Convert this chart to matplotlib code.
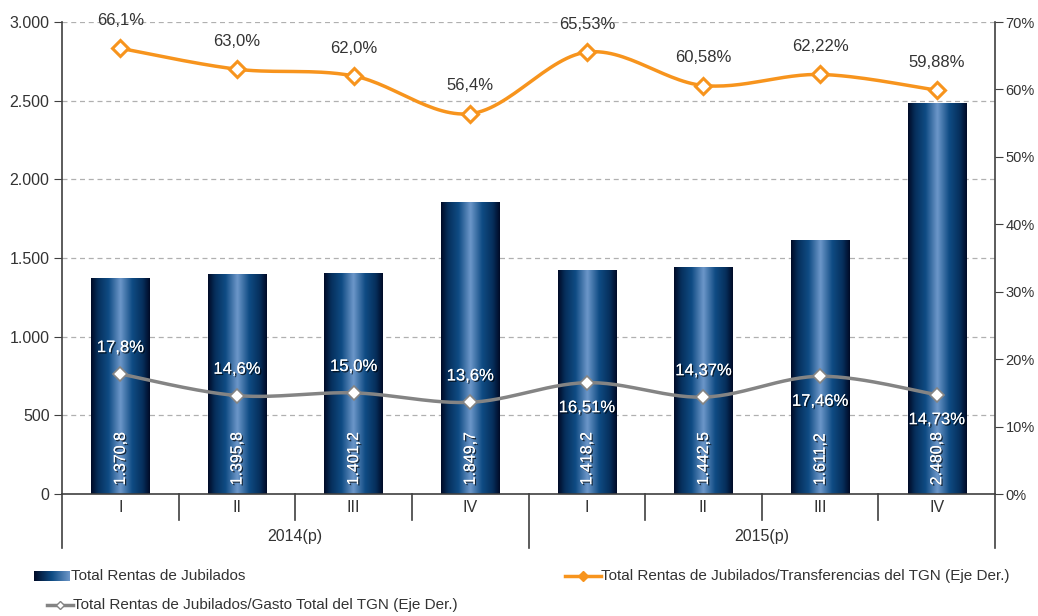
import numpy as np
import matplotlib
matplotlib.use("Agg")
import matplotlib.pyplot as plt
import matplotlib.patheffects as pe
from matplotlib.colors import LinearSegmentedColormap
from matplotlib.lines import Line2D
import matplotlib.transforms as mtransforms

plt.rcParams['font.family'] = ['Liberation Sans', 'DejaVu Sans']

quarters = ["I", "II", "III", "IV", "I", "II", "III", "IV"]
years = ["2014(p)", "2015(p)"]
rentas = [1370.8, 1395.8, 1401.2, 1849.7, 1418.2, 1442.5, 1611.2, 2480.8]
rentas_lbl = ["1.370,8", "1.395,8", "1.401,2", "1.849,7", "1.418,2", "1.442,5", "1.611,2", "2.480,8"]
transf = [66.1, 63.0, 62.0, 56.4, 65.53, 60.58, 62.22, 59.88]
transf_lbl = ["66,1%", "63,0%", "62,0%", "56,4%", "65,53%", "60,58%", "62,22%", "59,88%"]
gasto = [17.8, 14.6, 15.0, 13.6, 16.51, 14.37, 17.46, 14.73]
gasto_lbl = ["17,8%", "14,6%", "15,0%", "13,6%", "16,51%", "14,37%", "17,46%", "14,73%"]
gasto_pos = ["above", "above", "above", "above", "below", "above", "below", "below"]
left_ticks = [0, 500, 1000, 1500, 2000, 2500, 3000]
left_tick_lbl = ["0", "500", "1.000", "1.500", "2.000", "2.500", "3.000"]
right_ticks = [0, 10, 20, 30, 40, 50, 60, 70]

ORANGE = "#F7941D"
GRAY = "#848484"
TXT = "#333333"
SPINE = "#404040"

W, H = 1038, 616
fig = plt.figure(figsize=(W / 100, H / 100), dpi=100)
ax = fig.add_axes([62 / W, 1 - 494 / H, (995 - 62) / W, (494 - 22) / H])
ax2 = ax.twinx()

x = np.arange(len(rentas))

# bar gradient
bar_cmap = LinearSegmentedColormap.from_list(
    "bar", [(0.0, "#000a26"), (0.12, "#062f5c"), (0.3, "#0f4c84"),
            (0.5, "#6d97c9"), (0.7, "#0f4c84"), (0.88, "#062f5c"), (1.0, "#000a26")])
grad = np.linspace(0, 1, 256).reshape(1, -1)
bw = 0.5
for xi, v in zip(x, rentas):
    ax.imshow(grad, cmap=bar_cmap, aspect="auto", extent=(xi - bw / 2, xi + bw / 2, 0, v),
              zorder=2, interpolation="bicubic")
ax.set_xlim(-0.5, len(rentas) - 0.5)
ax.set_ylim(0, 3000)
ax2.set_ylim(0, 70)

# grid
for t in left_ticks[1:]:
    ax.axhline(t, color="#b0b0b0", lw=0.9, ls=(0, (4, 3)), zorder=1)

shadow = [pe.withSimplePatchShadow(offset=(1, -1), shadow_rgbFace="#000000", alpha=0.7), pe.Normal()]
for xi, lbl in zip(x, rentas_lbl):
    ax.text(xi, 55, lbl, rotation=90, ha="center", va="bottom", color="white",
            fontsize=11.5, zorder=5, path_effects=shadow)


def smooth(xs, ys, n=30, t=0.5):
    xs = np.asarray(xs, float); ys = np.asarray(ys, float)
    px = np.concatenate([[xs[0]], xs, [xs[-1]]])
    py = np.concatenate([[ys[0]], ys, [ys[-1]]])
    ox, oy = [], []
    for i in range(1, len(px) - 2):
        p0 = np.array([px[i - 1], py[i - 1]]); p1 = np.array([px[i], py[i]])
        p2 = np.array([px[i + 1], py[i + 1]]); p3 = np.array([px[i + 2], py[i + 2]])
        c1 = p1 + (p2 - p0) * t / 3
        c2 = p2 - (p3 - p1) * t / 3
        s = np.linspace(0, 1, n)[:, None]
        b = (1 - s) ** 3 * p1 + 3 * (1 - s) ** 2 * s * c1 + 3 * (1 - s) * s ** 2 * c2 + s ** 3 * p2
        ox.extend(b[:, 0]); oy.extend(b[:, 1])
    return np.array(ox), np.array(oy)


sx, sy = smooth(x, transf)
ax2.plot(sx, sy, color=ORANGE, lw=2.5, zorder=3, solid_capstyle="round")
ax2.plot(x, transf, ls="none", marker="D", ms=8, mfc="white", mec=ORANGE, mew=2.2, zorder=4)
gx, gy = smooth(x, gasto)
ax2.plot(gx, gy, color=GRAY, lw=2.5, zorder=3)
ax2.plot(x, gasto, ls="none", marker="D", ms=7.5, mfc="white", mec=GRAY, mew=1.2, zorder=4)

for xi, v, lbl in zip(x, transf, transf_lbl):
    ax2.annotate(lbl, (xi, v), xytext=(0, 20), textcoords="offset points", ha="center",
                 va="center", color=TXT, fontsize=12, zorder=6)
for xi, v, lbl, pos in zip(x, gasto, gasto_lbl, gasto_pos):
    dy = 19 if pos == "above" else -18
    ax2.annotate(lbl, (xi, v), xytext=(0, dy), textcoords="offset points", ha="center",
                 va="center", color="white", fontsize=12, zorder=6, path_effects=shadow)

ax.set_zorder(1)
ax2.set_zorder(2)
ax2.patch.set_visible(False)

# axes styling
for a in (ax, ax2):
    a.spines["top"].set_visible(False)
    for s in ("left", "right", "bottom"):
        a.spines[s].set_color(SPINE)
        a.spines[s].set_linewidth(1.2)
ax.spines["right"].set_visible(False)
ax2.spines["left"].set_visible(False)
ax2.spines["bottom"].set_visible(False)

ax.set_yticks(left_ticks)
ax.set_yticklabels(left_tick_lbl)
ax.tick_params(axis="y", direction="out", length=6, color=SPINE, labelsize=11.5, labelcolor=TXT, pad=3)
ax2.set_yticks(right_ticks)
ax2.set_yticklabels([f"{t}%" for t in right_ticks])
ax2.tick_params(axis="y", direction="out", length=6, color=SPINE, labelsize=10.5, labelcolor=TXT, pad=1.5)
ax.set_xticks([])

# category boundaries and labels
trans = mtransforms.blended_transform_factory(ax.transData, ax.transAxes)
ah = 494 - 22
for b in np.arange(0.5, len(rentas) - 0.5, 1.0):
    ln = 26 if b != 3.5 else 54
    ax.add_line(Line2D([b, b], [0, -ln / ah], transform=trans, color=SPINE, lw=1.2, clip_on=False))
for xe in (0, 1):
    ax.add_line(Line2D([xe, xe], [0, -54 / ah], transform=ax.transAxes, color=SPINE, lw=1.2, clip_on=False))
for xi, q in zip(x, quarters):
    ax.text(xi, -14 / ah, q, transform=trans, ha="center", va="center", fontsize=11.5, color=TXT)
for i, yr in enumerate(years):
    ax.text(1.5 + 4 * i, -42 / ah, yr, transform=trans, ha="center", va="center", fontsize=11.5, color=TXT)

# legend (manual)
lax = fig.add_axes([0, 0, 1, 1], zorder=-1)
lax.imshow(grad, cmap=LinearSegmentedColormap.from_list(
    "leg", ["#000a26", "#0f4c84", "#6d97c9"]), aspect="auto",
    extent=(34, 70, 581, 571), interpolation="bicubic")
lax.set_xlim(0, W)
lax.set_ylim(H, 0)
lax.axis("off")
lax.text(71, 576, "Total Rentas de Jubilados", ha="left", va="center", fontsize=11, color=TXT)
lax.plot([565, 601], [576, 576], color=ORANGE, lw=2.5)
lax.plot([583], [576], marker="D", ms=5, color=ORANGE)
lax.text(601, 576, "Total Rentas de Jubilados/Transferencias del TGN (Eje Der.)", ha="left",
         va="center", fontsize=11, color=TXT)
lax.plot([47, 73], [605, 605], color=GRAY, lw=2.5)
lax.plot([60], [605], marker="D", ms=4.5, mfc="white", mec=GRAY)
lax.text(73, 605, "Total Rentas de Jubilados/Gasto Total del TGN (Eje Der.)", ha="left",
         va="center", fontsize=11, color=TXT)

fig.savefig("out.png", dpi=100)
